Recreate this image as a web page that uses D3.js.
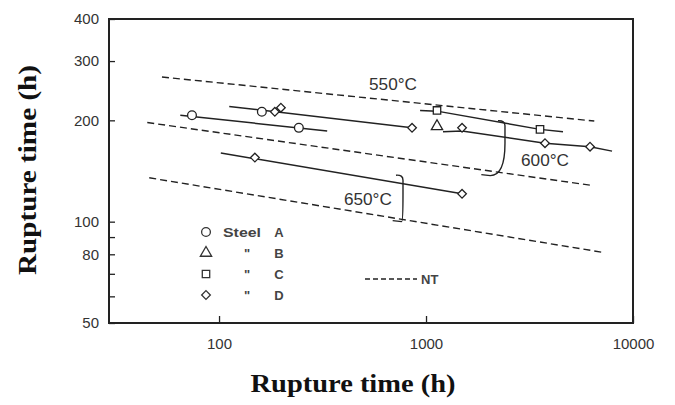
<!DOCTYPE html>
<html><head><meta charset="utf-8">
<script src="https://cdn.jsdelivr.net/npm/d3@7"></script>
<style>body{margin:0;background:#fff;} svg{display:block;}</style>
</head><body><svg id="c" width="675" height="405"></svg>
<script>
// ---- data (x = rupture time h, y = value on log axis) ----
const xTicks = [100, 1000, 10000];
const yTicks = [50, 60, 70, 80, 90, 100, 200, 300, 400];
const yTickLabels = [50, 80, 100, 200, 300, 400];

// NT reference lines (dashed)
const nt550 = [[53, 269], [6500, 199]];
const nt600 = [[45, 197], [6400, 128]];
const nt650 = [[46, 135], [7200, 81]];

// solid fitted lines
const line550a = [[112, 220], [856, 190]];
const line550b = [[65, 207], [333, 186]];
const line600a = [[936, 214], [1130, 213], [3554, 188], [4590, 185]];
const line600b = [[1208, 185], [1493, 186], [3757, 171], [6199, 167], [7920, 162]];
const line650 = [[102, 160], [1493, 121]];

// steel markers
const steelA = [[74, 207], [161, 212], [243, 190]];
const steelB = [[1130, 192]];
const steelC = [[1130, 214], [3554, 188]];
const steelD = [[186, 212], [199, 218], [856, 190], [1493, 190], [3757, 171], [6199, 167], [149, 155], [1493, 121]];

const steelNames = ["A", "B", "C", "D"];
const tempLabels = ["550°C", "600°C", "650°C"];
const tempAnchors = [[693, 256], [3757, 152.5], [524, 116.4]];
const braceTops = [[2407, 198], [774, 136.5]];
const braceEnds = [[1850, 137], [690, 100]];

// ---- drawing ----
const svg = d3.select("#c");
const x = d3.scaleLog().domain([29.4, 10000]).range([109, 633]);
const y = d3.scaleLog().domain([50, 400]).range([323, 19]);
const ink = "#222";

// axes
const xAxis = d3.axisBottom(x).tickValues(xTicks).tickSize(-7).tickPadding(15)
  .tickFormat(d3.format("d"));
const gx = svg.append("g").attr("transform", "translate(0,323)").call(xAxis);
const yAxis = d3.axisLeft(y).tickValues(yTicks).tickSize(-6).tickPadding(10)
  .tickFormat(d => yTickLabels.includes(d) ? d3.format("d")(d) : "");
const gy = svg.append("g").attr("transform", "translate(109,0)").call(yAxis);
[gx, gy].forEach(g => {
  g.select(".domain").remove();
  g.selectAll(".tick line").attr("stroke", ink).attr("stroke-width", 1.3);
  g.selectAll(".tick text").attr("fill", "#333")
    .style("font-family", "'Liberation Sans', Arial, sans-serif").style("font-size", "15px");
});

// frame
svg.append("rect").attr("x", 109).attr("y", 19).attr("width", 524).attr("height", 304)
  .attr("fill", "none").attr("stroke", ink).attr("stroke-width", 2);

const line = d3.line().x(d => x(d[0])).y(d => y(d[1]));

// NT dashed lines
[nt550, nt600, nt650].forEach(l => {
  svg.append("path").attr("d", line(l)).attr("fill", "none")
    .attr("stroke", ink).attr("stroke-width", 1.4).attr("stroke-dasharray", "7,4");
});

// solid lines
[line550a, line550b, line600a, line600b, line650].forEach(l => {
  svg.append("path").attr("d", line(l)).attr("fill", "none")
    .attr("stroke", ink).attr("stroke-width", 1.5);
});

// markers
const symTypes = [d3.symbolCircle, d3.symbolTriangle, d3.symbolSquare, d3.symbolDiamond2];
const symSizes = [60, 55, 55, 48];
[steelA, steelB, steelC, steelD].forEach((pts, i) => {
  svg.selectAll(null).data(pts).enter().append("path")
    .attr("d", d3.symbol().type(symTypes[i]).size(symSizes[i]))
    .attr("transform", d => `translate(${x(d[0])},${y(d[1])})`)
    .attr("fill", "#fff").attr("stroke", ink).attr("stroke-width", 1.3);
});

// temperature labels
tempLabels.forEach((t, i) => {
  svg.append("text").attr("x", x(tempAnchors[i][0])).attr("y", y(tempAnchors[i][1]))
    .attr("text-anchor", "middle").attr("dy", "0.35em")
    .attr("textLength", 48).attr("lengthAdjust", "spacingAndGlyphs")
    .attr("fill", "#333")
    .style("font-family", "'Liberation Sans', Arial, sans-serif").style("font-size", "17px")
    .text(t);
});

// braces
braceTops.forEach((tp, i) => {
  const tx = x(tp[0]), ty = y(tp[1]);
  const bx = x(braceEnds[i][0]), by = y(braceEnds[i][1]);
  const h = by - ty;
  const p = d3.path();
  p.moveTo(tx - 7, ty - 1);
  p.quadraticCurveTo(tx, ty - 1.5, tx, ty + 4);
  p.lineTo(tx, ty + 0.4 * h);
  p.quadraticCurveTo(tx, by, bx + 9, by);
  p.lineTo(bx, by - 1);
  svg.append("path").attr("d", p.toString()).attr("fill", "none")
    .attr("stroke", ink).attr("stroke-width", 1.4);
});

// legend
const lg = svg.append("g").style("font-family", "'Liberation Sans', Arial, sans-serif")
  .style("font-size", "13px").style("font-weight", "bold").attr("fill", "#444");
steelNames.forEach((s, i) => {
  const ly = 232 + i * 21;
  lg.append("path").attr("d", d3.symbol().type(symTypes[i]).size(symSizes[i])())
    .attr("transform", `translate(206,${ly})`)
    .attr("fill", "#fff").attr("stroke", "#333").attr("stroke-width", 1.3);
  if (i === 0) {
    lg.append("text").attr("x", 223).attr("y", ly).attr("dy", "0.36em")
      .attr("textLength", 38).attr("lengthAdjust", "spacingAndGlyphs").text("Steel");
  } else {
    lg.append("text").attr("x", 247).attr("y", ly).attr("dy", "0.36em")
      .attr("text-anchor", "middle").text("\"");
  }
  lg.append("text").attr("x", 279).attr("y", ly).attr("dy", "0.36em")
    .attr("text-anchor", "middle").text(s);
});
lg.append("line").attr("x1", 365).attr("x2", 417).attr("y1", 279).attr("y2", 279)
  .attr("stroke", ink).attr("stroke-width", 1.4).attr("stroke-dasharray", "5,3");
lg.append("text").attr("x", 421).attr("y", 279).attr("dy", "0.36em").text("NT");

// axis titles
svg.append("text").attr("x", 353).attr("y", 392).attr("text-anchor", "middle")
  .attr("textLength", 205).attr("lengthAdjust", "spacingAndGlyphs")
  .attr("fill", "#111")
  .style("font-family", "'Liberation Serif', 'Times New Roman', serif")
  .style("font-size", "25px").style("font-weight", "bold").text("Rupture time (h)");
svg.append("text").attr("transform", "translate(36,170) rotate(-90)").attr("text-anchor", "middle")
  .attr("textLength", 210).attr("lengthAdjust", "spacingAndGlyphs")
  .attr("fill", "#111")
  .style("font-family", "'Liberation Serif', 'Times New Roman', serif")
  .style("font-size", "25px").style("font-weight", "bold").text("Rupture time (h)");
</script></body></html>
